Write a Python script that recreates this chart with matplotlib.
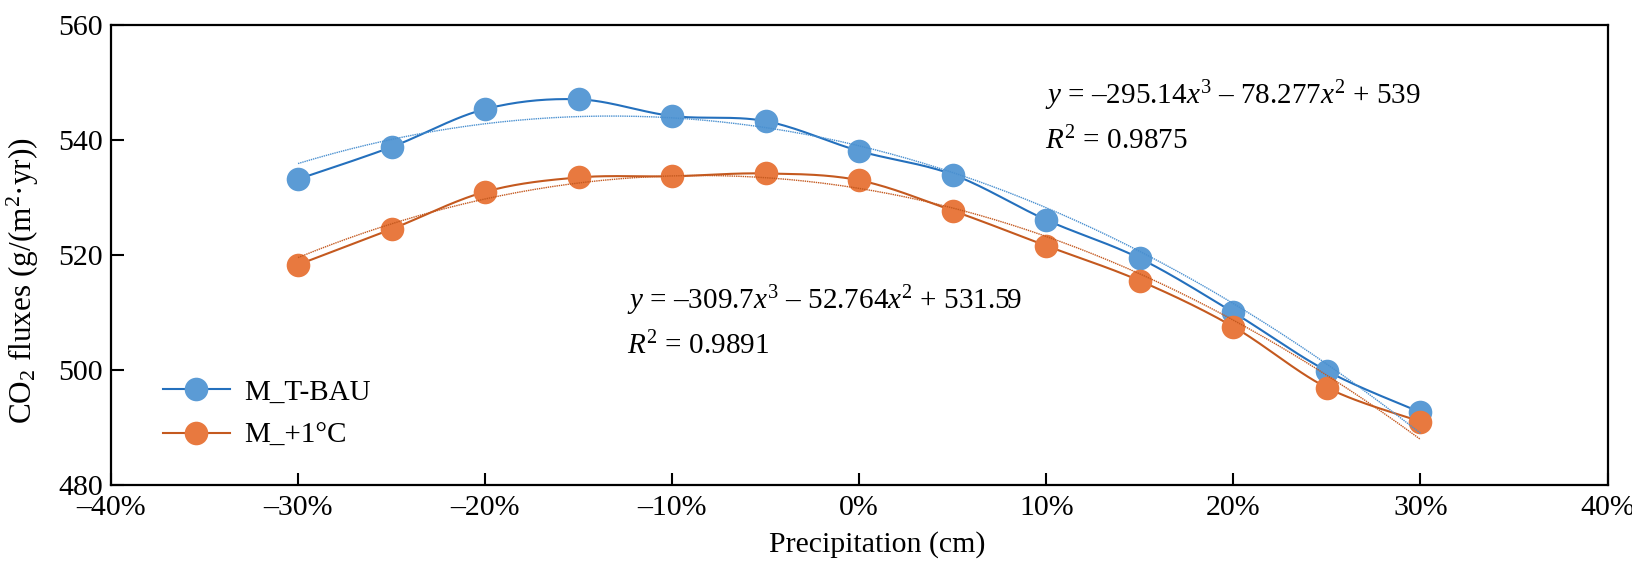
import numpy as np
import matplotlib.pyplot as plt
from matplotlib.ticker import FuncFormatter, MultipleLocator

plt.rcParams['font.family'] = ['Liberation Serif', 'DejaVu Serif']
plt.rcParams['mathtext.fontset'] = 'custom'
plt.rcParams['mathtext.rm'] = 'Liberation Serif'
plt.rcParams['mathtext.it'] = 'Liberation Serif:italic'

# precipitation change (fraction) and CO2 flux for each scenario
precip = [-0.30, -0.25, -0.20, -0.15, -0.10, -0.05, 0.00, 0.05, 0.10, 0.15, 0.20, 0.25, 0.30]
bau = [533.2, 538.8, 545.4, 547.1, 544.2, 543.3, 538.1, 534.0, 526.1, 519.4, 510.0, 499.8, 492.6]
plus1 = [518.3, 524.5, 531.0, 533.5, 533.7, 534.2, 533.0, 527.7, 521.6, 515.5, 507.5, 496.9, 491.0]

labels = ['M_T-BAU', 'M_+1°C']
# trend line coefficients (highest power first)
trend_bau = [-295.14, -78.277, 539]
trend_plus1 = [-309.7, -52.764, 531.59]
eq_bau = '$y$ = –295.14$x^3$ – 78.277$x^2$ + 539\n$R^2$ = 0.9875'
eq_plus1 = '$y$ = –309.7$x^3$ – 52.764$x^2$ + 531.59\n$R^2$ = 0.9891'


def smooth(x, y, n=30):
    # bezier smoothing through every point, like a spreadsheet "smoothed line"
    x = np.asarray(x, float)
    y = np.asarray(y, float)
    px = np.concatenate([[x[0]], x, [x[-1]]])
    py = np.concatenate([[y[0]], y, [y[-1]]])
    xs, ys = [], []
    t = np.linspace(0, 1, n)
    for i in range(1, len(px) - 2):
        p0 = np.array([px[i], py[i]])
        p3 = np.array([px[i + 1], py[i + 1]])
        c1 = p0 + (np.array([px[i + 1], py[i + 1]]) - np.array([px[i - 1], py[i - 1]])) / 6
        c2 = p3 - (np.array([px[i + 2], py[i + 2]]) - np.array([px[i], py[i]])) / 6
        b = ((1 - t) ** 3)[:, None] * p0 + (3 * (1 - t) ** 2 * t)[:, None] * c1 \
            + (3 * (1 - t) * t ** 2)[:, None] * c2 + (t ** 3)[:, None] * p3
        xs.append(b[:, 0])
        ys.append(b[:, 1])
    return np.concatenate(xs), np.concatenate(ys)


fig = plt.figure(figsize=(16.32, 5.61), dpi=100)
ax = fig.add_axes([0.068, 0.136, 0.917, 0.819])

styles = [
    (bau, trend_bau, '#5B9BD5', '#2470BD', '#4A90D0'),
    (plus1, trend_plus1, '#E8793F', '#C4591F', '#C4591F'),
]
for (vals, coef, face, line, trend), lab in zip(styles, labels):
    sx, sy = smooth(precip, vals)
    ax.plot(sx, sy, color=line, lw=1.5, zorder=2)
    ax.plot(precip, vals, 'o', color=face, ms=17, mec='none', zorder=3)
    # trend line over the data range
    tx = np.linspace(precip[0], precip[-1], 200)
    ax.plot(tx, np.polyval(coef, tx), color=trend, lw=1.0, ls=(0, (1, 0.6)), zorder=4)
    # legend proxy
    ax.plot([], [], '-o', color=line, mfc=face, mec='none', ms=17, lw=1.5, label=lab)

ax.text(0.624, 0.80, eq_bau, transform=ax.transAxes, fontsize=21,
        ha='left', va='center', linespacing=1.6)
ax.text(0.345, 0.355, eq_plus1, transform=ax.transAxes, fontsize=21,
        ha='left', va='center', linespacing=1.6)

ax.set_xlim(-0.4, 0.4)
ax.set_ylim(480, 560)
ax.xaxis.set_major_locator(MultipleLocator(0.1))
ax.yaxis.set_major_locator(MultipleLocator(20))
ax.xaxis.set_major_formatter(FuncFormatter(
    lambda v, p: ('%d%%' % round(v * 100)).replace('-', '–')))

ax.tick_params(direction='in', length=9, width=1.5, labelsize=21.5, top=False, right=False)
ax.tick_params(axis='x', pad=7.5)
ax.tick_params(axis='y', pad=6)
for s in ax.spines.values():
    s.set_linewidth(1.6)

ax.set_xlabel('Precipitation (cm)', fontsize=21.5)
ax.set_ylabel('CO$_2$ fluxes (g/(m$^2$·yr))', fontsize=22.5)
ax.xaxis.set_label_coords(0.512, -0.1, transform=ax.transAxes)
ax.yaxis.set_label_coords(-0.047, 0.445, transform=ax.transAxes)

ax.legend(loc='lower left', bbox_to_anchor=(0.017, 0.02), frameon=False, fontsize=21,
          handlelength=2.3, handletextpad=0.5, labelspacing=0.6)

fig.savefig('out.png', dpi=100)
